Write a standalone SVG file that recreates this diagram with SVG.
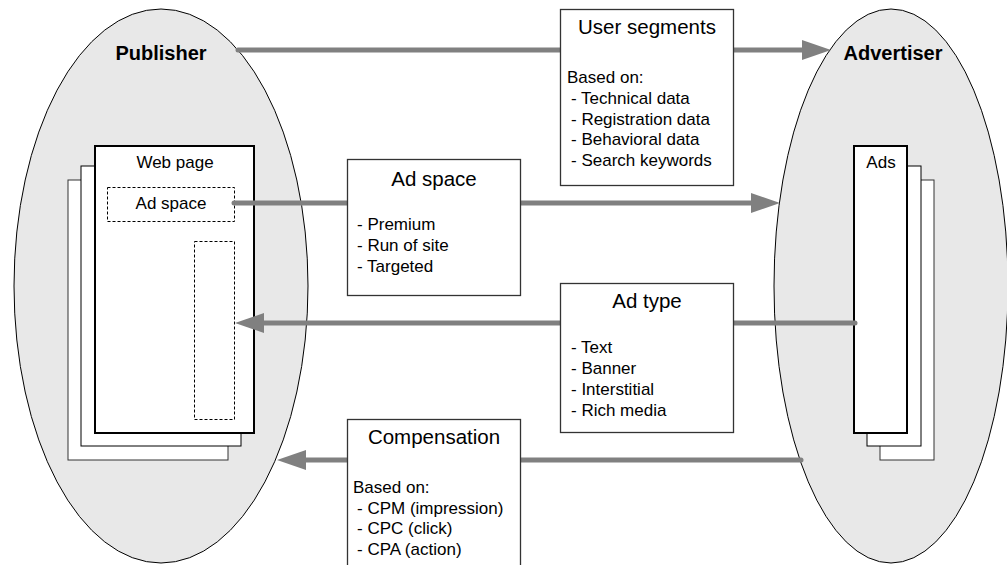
<svg xmlns="http://www.w3.org/2000/svg" width="1007" height="565" viewBox="0 0 1007 565">
<style>
.ell{fill:#e8e8e8;stroke:#000;stroke-width:1}
.page{fill:#fff;stroke:#000;stroke-width:1}
.pageb{fill:#fff;stroke:#333;stroke-width:1}
.front{fill:#fff;stroke:#000;stroke-width:2}
.dash{fill:none;stroke:#000;stroke-width:1;stroke-dasharray:3,2}
.box{fill:#fff;stroke:#333;stroke-width:1.3}
.conn{stroke:#808080;stroke-width:5;fill:none;stroke-linecap:round}
.head{fill:#808080}
text{font-family:"Liberation Sans",Arial,sans-serif;fill:#000}
.bold{font-size:20px;font-weight:bold;text-anchor:middle}
.title{font-size:20.5px;text-anchor:middle}
.lbl{font-size:17px;text-anchor:middle}
.body{font-size:17px}
</style>
<g id="publisher">
<ellipse class="ell" cx="161" cy="286" rx="147" ry="277"/>
<text class="bold" x="161" y="60">Publisher</text>
</g>
<g id="advertiser">
<ellipse class="ell" cx="891" cy="286" rx="117" ry="277"/>
<text class="bold" x="893" y="60">Advertiser</text>
</g>
<g id="webpage">
<rect class="pageb" x="68" y="180" width="160" height="280"/>
<rect class="page" x="81" y="166" width="160" height="280"/>
<rect class="front" x="95" y="146" width="159" height="287"/>
<text class="lbl" x="175" y="168">Web page</text>
</g>
<g id="adspace-slot">
<rect class="dash" x="107.5" y="187.5" width="127" height="34"/>
<text class="lbl" x="171" y="209">Ad space</text>
</g>
<g id="side-slot">
<rect class="dash" x="194.5" y="241.5" width="40" height="178"/>
</g>
<g id="ads">
<rect class="pageb" x="880" y="180" width="54" height="280"/>
<rect class="page" x="867" y="166" width="54" height="280"/>
<rect class="front" x="854" y="146" width="53" height="287"/>
<text class="lbl" x="881" y="168">Ads</text>
</g>
<g id="connectors">
<line class="conn" x1="238" y1="50" x2="804" y2="50"/>
<polygon class="head" points="831,50 802,40 802,60"/>
<line class="conn" x1="234" y1="203" x2="754" y2="203"/>
<polygon class="head" points="780,203 751,193 751,213"/>
<line class="conn" x1="855" y1="323" x2="261" y2="323"/>
<polygon class="head" points="235,323 264,313 264,333"/>
<line class="conn" x1="801" y1="460" x2="303" y2="460"/>
<polygon class="head" points="277,460 306,450 306,470"/>
</g>
<g id="user-segments">
<rect class="box" x="560.5" y="9.5" width="173" height="176"/>
<text class="title" x="647" y="34">User segments</text>
<text class="body" x="567" y="83">Based on:</text>
<text class="body" x="571" y="104">- Technical data</text>
<text class="body" x="571" y="124.5">- Registration data</text>
<text class="body" x="571" y="145">- Behavioral data</text>
<text class="body" x="571" y="165.5">- Search keywords</text>
</g>
<g id="ad-space">
<rect class="box" x="347.5" y="159.5" width="173" height="136"/>
<text class="title" x="434" y="186">Ad space</text>
<text class="body" x="357" y="230">- Premium</text>
<text class="body" x="357" y="251">- Run of site</text>
<text class="body" x="357" y="272">- Targeted</text>
</g>
<g id="ad-type">
<rect class="box" x="560.5" y="283.5" width="173" height="149"/>
<text class="title" x="647" y="308">Ad type</text>
<text class="body" x="571" y="353">- Text</text>
<text class="body" x="571" y="374">- Banner</text>
<text class="body" x="571" y="395">- Interstitial</text>
<text class="body" x="571" y="416">- Rich media</text>
</g>
<g id="compensation">
<rect class="box" x="347.5" y="419.5" width="173" height="160"/>
<text class="title" x="434" y="444">Compensation</text>
<text class="body" x="353" y="493">Based on:</text>
<text class="body" x="357" y="513.5">- CPM (impression)</text>
<text class="body" x="357" y="534">- CPC (click)</text>
<text class="body" x="357" y="554.5">- CPA (action)</text>
</g>
</svg>
